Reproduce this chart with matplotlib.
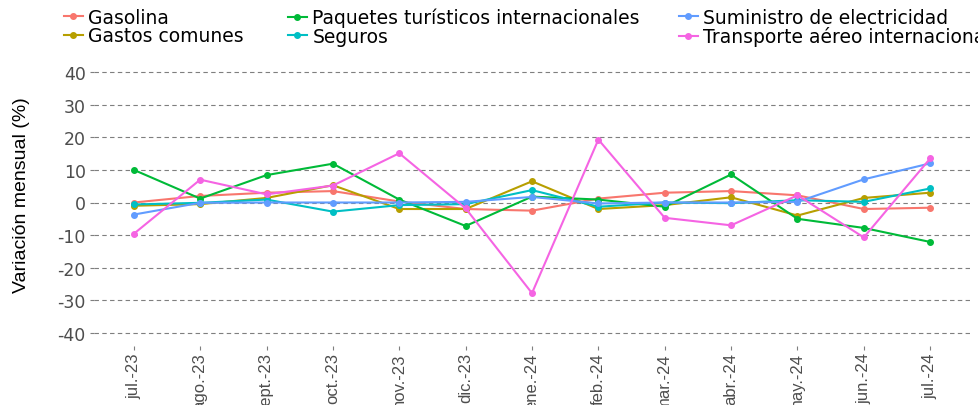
import matplotlib.pyplot as plt
from matplotlib.lines import Line2D

# Months (x axis)
meses = ["jul.-23", "ago.-23", "sept.-23", "oct.-23", "nov.-23", "dic.-23",
         "ene.-24", "feb.-24", "mar.-24", "abr.-24", "may.-24", "jun.-24", "jul.-24"]

# Monthly variation (%) per item
gasolina = [0.0, 2.0, 3.0, 3.5, 0.3, -2.0, -2.5, 1.2, 3.0, 3.5, 2.2, -2.0, -1.6]
gastos_comunes = [-1.0, -0.5, 1.4, 5.3, -2.0, -2.0, 6.5, -2.0, -0.8, 1.6, -4.0, 1.4, 3.0]
paquetes = [10.0, 1.2, 8.4, 11.9, 0.9, -7.2, 1.8, 0.9, -1.3, 8.6, -5.0, -7.8, -12.1]
seguros = [-0.6, -0.1, 0.9, -2.8, -0.8, -0.5, 3.8, -1.3, 0.0, -0.2, 0.7, 0.2, 4.3]
suministro = [-3.7, -0.1, 0.0, 0.0, 0.0, 0.2, 1.7, -0.3, 0.0, 0.0, 0.2, 7.1, 12.0]
transporte = [-9.6, 7.0, 2.5, 5.2, 15.1, -1.8, -27.8, 19.3, -4.7, -7.0, 2.2, -10.7, 13.5]

nombres = ["Gasolina", "Gastos comunes", "Paquetes turísticos internacionales",
           "Seguros", "Suministro de electricidad", "Transporte aéreo internacional"]
series = [gasolina, gastos_comunes, paquetes, seguros, suministro, transporte]
colores = ["#F8766D", "#B79F00", "#00BA38", "#00BFC4", "#619CFF", "#F564E3"]

yticks = [40, 30, 20, 10, 0, -10, -20, -30, -40]

W, H = 979, 406
fig = plt.figure(figsize=(W / 100, H / 100), dpi=100)
ax = fig.add_axes([94 / W, (H - 347) / H, (970 - 94) / W, (347 - 60) / H])

x = list(range(len(meses)))
for nombre, valores, color in zip(nombres, series, colores):
    ax.plot(x, valores, color=color, lw=1.5, marker="o", ms=4, label=nombre)

ax.set_xlim(-0.6, len(meses) - 1 + 0.6)
ax.set_ylim(-44, 44)
ax.set_yticks(yticks)
ax.set_yticklabels([str(v) for v in yticks], fontfamily="DejaVu Sans", fontsize=12.5, color="#4D4D4D")
ax.set_xticks(x)
ax.set_xticklabels(meses, rotation=90, fontfamily="Liberation Sans",
                   fontsize=12, color="#4D4D4D", va="top")
ax.tick_params(axis="both", length=3, width=0.8, color="#7F7F7F", pad=3)
ax.tick_params(axis="x", pad=1.5)

ax.grid(axis="y", color="#7F7F7F", lw=0.8, linestyle=(0, (4, 3)))
ax.set_axisbelow(True)
for s in ax.spines.values():
    s.set_visible(False)

ax.set_ylabel("Variación mensual (%)", fontfamily="Liberation Sans",
              fontsize=14, color="black")
ax.yaxis.set_label_coords(-(94 - 30) / (970 - 94), 0.53)

# legend: three columns placed separately
columnas = [(64, [0, 1]), (288, [2, 3]), (679, [4, 5])]
for xpos, idx in columnas:
    handles = [Line2D([0], [0], color=colores[i], lw=1.5, marker="o", ms=4) for i in idx]
    labels = [nombres[i] for i in idx]
    leg = fig.legend(handles, labels, loc="upper left", bbox_to_anchor=(xpos / W, 1 - 9 / H),
                     frameon=False, borderpad=0, borderaxespad=0, handlelength=1.0,
                     handletextpad=0.3, labelspacing=-0.05,
                     prop={"family": "DejaVu Sans", "size": 13.5})

fig.savefig("out.png", dpi=100)
